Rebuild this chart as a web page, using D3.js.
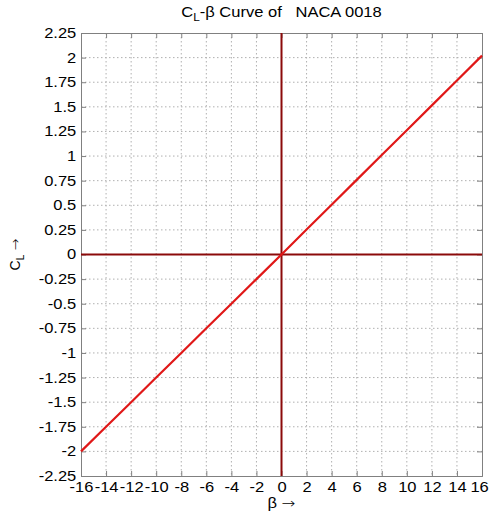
<!DOCTYPE html>
<html>
<head>
<meta charset="utf-8">
<script src="https://cdn.jsdelivr.net/npm/d3@7"></script>
<style>
  body { margin: 0; background: #fff; }
  svg { font-family: "Liberation Sans", Arial, sans-serif; }
  .grid line { stroke: #b0b0b0; stroke-dasharray: 1.5 2.5; stroke-width: 1; }
  .axis path, .axis line { stroke: #808080; }
  .axis text { fill: #000; font-size: 14px; }
  .arrow { font-family: "DejaVu Sans", sans-serif; font-weight: 300; }
</style>
</head>
<body>
<div id="wrapper"></div>
<script>
// data
const betaValues = [-16, -14, -12, -10, -8, -6, -4, -2, 0, 2, 4, 6, 8, 10, 12, 14, 16];
const clValues = [-2.00, -1.75, -1.50, -1.25, -1.00, -0.75, -0.50, -0.25, 0, 0.253, 0.505, 0.758, 1.01, 1.263, 1.515, 1.768, 2.02];
const xTicks = [-16, -14, -12, -10, -8, -6, -4, -2, 0, 2, 4, 6, 8, 10, 12, 14, 16];
const yTicks = [-2.25, -2, -1.75, -1.5, -1.25, -1, -0.75, -0.5, -0.25, 0, 0.25, 0.5, 0.75, 1, 1.25, 1.5, 1.75, 2, 2.25];

// the source picture is stretched sideways, so text gets a horizontal scale
const stretch = 1.18;

const dimensions = {
  width: 490,
  height: 512,
  margin: { top: 33, right: 8, bottom: 36, left: 81 },
};
dimensions.boundedWidth = dimensions.width - dimensions.margin.left - dimensions.margin.right;
dimensions.boundedHeight = dimensions.height - dimensions.margin.top - dimensions.margin.bottom;

const wrapper = d3.select('#wrapper')
  .append('svg')
  .attr('width', dimensions.width)
  .attr('height', dimensions.height);

const bounds = wrapper.append('g')
  .attr('transform', `translate(${dimensions.margin.left},${dimensions.margin.top})`);

const xScale = d3.scaleLinear().domain([-16, 16]).range([0, dimensions.boundedWidth]);
const yScale = d3.scaleLinear().domain([-2.25, 2.25]).range([dimensions.boundedHeight, 0]);

// grid
bounds.append('g').attr('class', 'grid')
  .selectAll('line').data(xTicks.slice(1, -1)).join('line')
  .attr('x1', d => xScale(d)).attr('x2', d => xScale(d))
  .attr('y1', 0).attr('y2', dimensions.boundedHeight);
bounds.append('g').attr('class', 'grid')
  .selectAll('line').data(yTicks.slice(1, -1)).join('line')
  .attr('y1', d => yScale(d)).attr('y2', d => yScale(d))
  .attr('x1', 0).attr('x2', dimensions.boundedWidth);

// axes (ticks inward, matlab style)
const fmt = d => String(d);
const xAxis = bounds.append('g').attr('class', 'axis')
  .attr('transform', `translate(0,${dimensions.boundedHeight})`)
  .call(d3.axisBottom(xScale).tickValues(xTicks).tickSize(-5).tickPadding(6).tickFormat(fmt));
xAxis.selectAll('text')
  .attr('transform', `scale(${stretch},1)`)
  .attr('dx', (d, i) => (i === xTicks.length - 1 ? -2.5 : 0));
bounds.append('g').attr('class', 'axis')
  .call(d3.axisTop(xScale).tickValues(xTicks).tickSize(-5).tickFormat(''));
const yAxis = bounds.append('g').attr('class', 'axis')
  .call(d3.axisLeft(yScale).tickValues(yTicks).tickSize(-5).tickPadding(4).tickFormat(fmt));
yAxis.selectAll('text').attr('transform', `scale(${stretch},1)`);
bounds.append('g').attr('class', 'axis')
  .attr('transform', `translate(${dimensions.boundedWidth},0)`)
  .call(d3.axisRight(yScale).tickValues(yTicks).tickSize(-5).tickFormat(''));

// zero lines
bounds.append('line')
  .attr('x1', 0).attr('x2', dimensions.boundedWidth)
  .attr('y1', yScale(0)).attr('y2', yScale(0))
  .attr('stroke', '#8b0a0a').attr('stroke-width', 2);
bounds.append('line')
  .attr('x1', xScale(0)).attr('x2', xScale(0))
  .attr('y1', 0).attr('y2', dimensions.boundedHeight)
  .attr('stroke', '#8b0a0a').attr('stroke-width', 2);

// curve
const lineGen = d3.line()
  .x((d, i) => xScale(betaValues[i]))
  .y(d => yScale(d));
bounds.append('path')
  .datum(clValues)
  .attr('d', lineGen)
  .attr('fill', 'none')
  .attr('stroke', '#e01818')
  .attr('stroke-width', 2.2);

// title
const title = wrapper.append('text')
  .attr('transform', `translate(${dimensions.margin.left + dimensions.boundedWidth / 2},17) scale(${stretch},1)`)
  .attr('text-anchor', 'middle')
  .style('font-size', '14px');
title.append('tspan').text('C');
title.append('tspan').attr('dy', 4).style('font-size', '10px').text('L');
title.append('tspan').attr('dy', -4).text('-β Curve of \u00a0\u00a0NACA 0018');

// x label
const xLabel = wrapper.append('text')
  .attr('transform', `translate(${dimensions.margin.left + dimensions.boundedWidth / 2},508) scale(${stretch},1)`)
  .attr('text-anchor', 'middle')
  .style('font-size', '14px');
xLabel.append('tspan').text('β ');
xLabel.append('tspan').attr('class', 'arrow').text('→');

// y label
const yLabel = wrapper.append('text')
  .attr('transform', `translate(20,${dimensions.margin.top + dimensions.boundedHeight / 2}) rotate(-90)`)
  .attr('text-anchor', 'middle')
  .style('font-size', '14px');
yLabel.append('tspan').text('C');
yLabel.append('tspan').attr('dy', 4).style('font-size', '10px').text('L');
yLabel.append('tspan').attr('dy', -4).attr('class', 'arrow').text(' →');
</script>
</body>
</html>
